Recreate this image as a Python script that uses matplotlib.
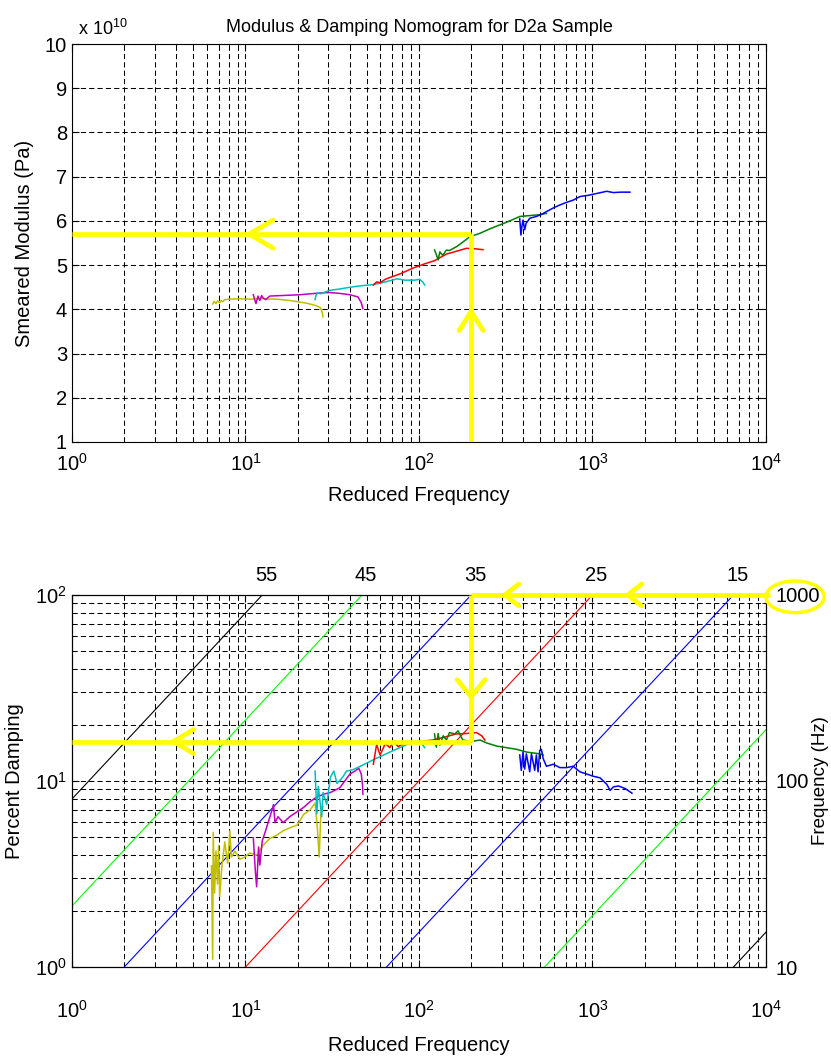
import matplotlib
matplotlib.use("Agg")
import matplotlib.pyplot as plt
from matplotlib.patches import Ellipse
from matplotlib.ticker import LogLocator, FixedLocator, FixedFormatter, NullFormatter

plt.rcParams['font.family'] = ['Liberation Sans', 'DejaVu Sans']
plt.rcParams['mathtext.fontset'] = 'custom'
plt.rcParams['mathtext.rm'] = 'Liberation Sans'
plt.rcParams['mathtext.it'] = 'Liberation Sans:italic'
plt.rcParams['mathtext.bf'] = 'Liberation Sans:bold'
plt.rcParams['font.size'] = 14.5

# ---------------- data: modulus (x 1e10 Pa) vs reduced frequency ----------------
mod_olive_fr = [6.47, 6.6, 6.76, 6.9, 7.1, 7.25, 7.4, 7.6, 8.1, 9.3, 10.6, 12.1, 15.2, 18.0, 22.5, 25.7, 27.0, 27.6, 28.0]
mod_olive = [4.12, 4.18, 4.13, 4.19, 4.15, 4.20, 4.17, 4.22, 4.23, 4.24, 4.23, 4.24, 4.23, 4.20, 4.14, 4.08, 4.04, 3.95, 3.83]

mod_magenta_fr = [11.1, 11.3, 11.5, 11.8, 12.1, 12.4, 12.6, 13.1, 13.8, 15.8, 18.0, 20.6, 23.5, 27.0, 30.6, 35.0, 40.0, 44.5, 46.5, 47.5]
mod_magenta = [4.33, 4.22, 4.13, 4.30, 4.20, 4.31, 4.26, 4.22, 4.30, 4.31, 4.32, 4.33, 4.35, 4.37, 4.38, 4.36, 4.33, 4.28, 4.15, 4.02]

mod_cyan_fr = [25.2, 25.5, 26.2, 27.0, 30.6, 35.0, 40.0, 45.7, 54.6, 64.0, 74.7, 83.0, 95.0, 101.0, 105.0, 108.0]
mod_cyan = [4.22, 4.32, 4.38, 4.35, 4.43, 4.46, 4.50, 4.53, 4.56, 4.62, 4.69, 4.66, 4.66, 4.68, 4.62, 4.55]

mod_red_fr = [54.6, 57.0, 59.7, 64.0, 68.0, 77.6, 92.0, 108.0, 123.0, 144.0, 160.0, 188.0, 209.0, 234.0]
mod_red = [4.55, 4.62, 4.60, 4.68, 4.72, 4.80, 4.93, 5.03, 5.10, 5.25, 5.30, 5.38, 5.37, 5.35]

mod_green_fr = [123, 127, 129, 132, 137, 144, 150, 165, 179, 196, 225, 256, 293, 334, 381, 435, 497, 543]
mod_green = [5.34, 5.20, 5.12, 5.30, 5.22, 5.34, 5.33, 5.42, 5.52, 5.64, 5.72, 5.82, 5.91, 6.00, 6.10, 6.12, 6.14, 6.17]

mod_blue_fr = [381, 387, 393, 398, 407, 415, 425, 435, 455, 475, 510, 543, 600, 649, 710, 775, 847, 950, 1059, 1209, 1322, 1450, 1645]
mod_blue = [6.05, 5.68, 5.90, 6.02, 5.80, 5.95, 6.00, 6.06, 6.08, 6.10, 6.15, 6.21, 6.30, 6.36, 6.42, 6.47, 6.55, 6.58, 6.62, 6.67, 6.64, 6.65, 6.65]

# ---------------- data: percent damping vs reduced frequency ----------------
damp_olive_fr = [6.37, 6.47, 6.52, 6.64, 6.76, 6.9, 7.0, 7.1, 7.3, 7.6, 7.9, 8.13, 8.3, 8.7, 9.3, 9.9, 10.6, 11.6, 12.6, 13.8, 15.1, 16.5, 18.0, 19.9, 21.6, 23.6, 25.2, 26.0, 26.6, 27.2, 28.0]
damp_olive = [3.5, 1.1, 5.3, 2.5, 4.2, 2.8, 4.5, 2.4, 3.4, 4.7, 3.6, 5.4, 3.9, 4.2, 3.8, 3.9, 4.1, 4.0, 4.5, 4.9, 5.1, 5.4, 5.6, 5.8, 6.6, 7.0, 7.6, 5.5, 3.9, 6.6, 7.3]

damp_magenta_fr = [11.1, 11.4, 11.6, 11.9, 12.1, 12.5, 13.0, 13.5, 14.2, 14.5, 14.8, 15.4, 16.5, 18.0, 19.7, 21.6, 23.6, 25.8, 28.3, 30.9, 35.0, 40.0, 42.7, 45.0, 46.5, 47.3, 47.5]
damp_magenta = [4.95, 3.28, 2.7, 4.42, 3.53, 4.77, 5.33, 5.97, 6.93, 7.47, 5.97, 6.43, 5.97, 6.43, 6.8, 7.2, 7.75, 8.2, 8.5, 8.67, 9.2, 10.9, 11.3, 11.7, 10.9, 9.5, 8.5]

damp_cyan_fr = [25.2, 25.8, 26.3, 27.5, 28.0, 29.4, 30.9, 32.3, 33.7, 36.4, 38.2, 41.6, 46.0, 54.6, 68.0, 85.0, 97.0, 103.0, 108.0]
damp_cyan = [11.3, 6.67, 9.35, 6.43, 8.67, 7.47, 10.5, 11.3, 9.7, 10.5, 11.3, 11.5, 12.0, 13.0, 14.3, 15.7, 16.3, 16.0, 15.1]

damp_red_fr = [54.6, 57, 59.7, 64, 68, 71, 76, 81, 89, 101, 120, 140, 164, 188, 215, 230, 240]
damp_red = [12.3, 15.7, 13.8, 15.9, 15.1, 16.3, 15.3, 15.9, 15.9, 16.3, 16.6, 17.2, 17.9, 18.0, 18.2, 17.5, 16.6]

damp_green_fr = [123, 126, 129, 132, 138, 144, 150, 161, 168, 179, 200, 225, 246, 281, 320, 366, 418, 497, 520]
damp_green = [17.9, 15.2, 18.0, 15.6, 17.5, 16.6, 18.2, 17.9, 18.6, 16.6, 16.3, 16.6, 16.0, 15.4, 15.1, 14.8, 14.3, 14.0, 13.8]

damp_blue_fr = [381, 389, 398, 407, 416, 435, 445, 465, 475, 486, 497, 508, 520, 543, 594, 649, 709, 775, 847, 926, 1012, 1106, 1209, 1264, 1322, 1414, 1546, 1690]
damp_blue = [13.8, 11.4, 14.3, 11.6, 14.0, 11.2, 14.0, 11.4, 13.8, 11.2, 14.6, 14.8, 13.2, 12.0, 12.3, 11.8, 11.8, 12.0, 11.2, 10.9, 10.6, 10.4, 9.6, 8.9, 9.3, 9.4, 9.1, 8.6]

# ---------------- isotherms: reduced frequency at which each line meets 10 Hz ----------------
iso_labels = ['55', '45', '35', '25', '15', '', '']
iso_fr_at_10hz = [0.125, 0.47, 2.0, 10.0, 65.0, 530.0, 6500.0]
iso_colors = ['k', '#00ff00', '#0000ff', '#ff0000', '#0000ff', '#00ff00', 'k']

# ---------------- guide (read-off) values ----------------
guide_fr = 200.0
guide_mod = 5.7
guide_damp = 16.3
guide_freq = 1000.0

C_OLIVE = (0.75, 0.75, 0.0)
C_MAG = (0.75, 0.0, 0.75)
C_CYAN = (0.0, 0.75, 0.75)
C_RED = (1.0, 0.0, 0.0)
C_GREEN = (0.0, 0.5, 0.0)
C_BLUE = (0.0, 0.0, 1.0)
YEL = (1.0, 1.0, 0.0)
YLW = 3.4

GRID = dict(color='k', linestyle=(0, (5, 3)), linewidth=0.75)

fig = plt.figure(figsize=(8.31, 10.63), dpi=100)
ax1 = fig.add_axes([0.0866, 0.5842, 0.8351, 0.3744])
ax = fig.add_axes([0.0866, 0.0903, 0.8351, 0.35])


def chevron(axis, tip, offsets, lw=YLW):
    for dx, dy in offsets:
        axis.annotate('', xy=tip, xytext=(dx, dy), textcoords='offset pixels',
                      arrowprops=dict(arrowstyle='-', color=YEL, lw=lw,
                                      shrinkA=0, shrinkB=0), zorder=6)

# ================= top: modulus =================
ax1.set_xscale('log')
ax1.set_xlim(1, 1e4)
ax1.set_ylim(1, 10)
ax1.set_yticks(range(1, 11))
for fr, v, c in [(mod_olive_fr, mod_olive, C_OLIVE), (mod_magenta_fr, mod_magenta, C_MAG),
                 (mod_cyan_fr, mod_cyan, C_CYAN), (mod_red_fr, mod_red, C_RED),
                 (mod_green_fr, mod_green, C_GREEN), (mod_blue_fr, mod_blue, C_BLUE)]:
    ax1.plot(fr, v, color=c, lw=1.1, zorder=3)

ax1.plot([1, guide_fr], [guide_mod, guide_mod], color=YEL, lw=YLW, zorder=5, solid_capstyle='butt')
ax1.plot([guide_fr, guide_fr], [1, guide_mod], color=YEL, lw=YLW, zorder=5, solid_capstyle='butt')
chevron(ax1, (10.5, guide_mod), [(24, 14), (24, -14)])
chevron(ax1, (guide_fr, 3.95), [(-12, -19), (12, -19)])

ax1.grid(True, which='major', axis='both', **GRID)
ax1.grid(True, which='minor', axis='x', **GRID)
ax1.xaxis.set_major_locator(LogLocator(base=10, numticks=10))
ax1.xaxis.set_minor_locator(LogLocator(base=10, subs=range(2, 10), numticks=50))
ax1.xaxis.set_minor_formatter(NullFormatter())
ax1.tick_params(which='both', direction='in', top=True, right=True, length=5)
ax1.tick_params(which='minor', length=3)
ax1.tick_params(axis='x', pad=8)
ax1.set_xlabel('Reduced Frequency', labelpad=8)
ax1.set_ylabel('Smeared Modulus (Pa)', labelpad=8)
ax1.set_title('Modulus & Damping Nomogram for D2a Sample', pad=9, fontsize=13)
ax1.text(0.008, 1.012, r'x 10$^{10}$', transform=ax1.transAxes, ha='left', va='bottom',
         fontsize=13)

# ================= bottom: damping =================
ax.set_xscale('log')
ax.set_yscale('log')
ax.set_xlim(1, 1e4)
ax.set_ylim(1, 100)

ax2 = ax.twinx()
ax2.set_yscale('log')
ax2.set_ylim(10, 1000)

for s, lab, c in zip(iso_fr_at_10hz, iso_labels, iso_colors):
    ax2.plot([s, s * 100], [10, 1000], color=c, lw=0.8, zorder=2)
    if lab:
        ax2.annotate(lab, xy=(s * 100, 1000), xytext=(4, 10), textcoords='offset pixels',
                     ha='center', va='bottom', annotation_clip=False)

for fr, v, c in [(damp_olive_fr, damp_olive, C_OLIVE), (damp_magenta_fr, damp_magenta, C_MAG),
                 (damp_cyan_fr, damp_cyan, C_CYAN), (damp_red_fr, damp_red, C_RED),
                 (damp_green_fr, damp_green, C_GREEN), (damp_blue_fr, damp_blue, C_BLUE)]:
    ax2.plot(fr, [x * 10 for x in v], color=c, lw=1.1, zorder=3)

# yellow guide path on frequency axis
ax2.plot([guide_fr, 1.05e4], [guide_freq, guide_freq], color=YEL, lw=YLW, zorder=5,
         solid_capstyle='butt', clip_on=False)
ax2.plot([guide_fr, guide_fr], [guide_freq, guide_damp * 10], color=YEL, lw=YLW, zorder=5,
         solid_capstyle='butt', clip_on=False)
ax2.plot([1, guide_fr], [guide_damp * 10, guide_damp * 10], color=YEL, lw=YLW, zorder=5,
         solid_capstyle='butt', clip_on=False)
chevron(ax2, (313, guide_freq), [(14, 11), (14, -11)])
chevron(ax2, (1600, guide_freq), [(14, 11), (14, -11)])
chevron(ax2, (guide_fr, 284), [(-14, 17), (14, 17)])
chevron(ax2, (3.85, guide_damp * 10), [(20, 12), (20, -12)])
ax2.add_patch(Ellipse((1.042, 0.995), 0.084, 0.085, transform=ax2.transAxes, fill=False,
                      ec=YEL, lw=2.5, clip_on=False, zorder=6))

ax.grid(True, which='both', axis='both', **GRID)
ax.xaxis.set_major_locator(LogLocator(base=10, numticks=10))
ax.xaxis.set_minor_locator(LogLocator(base=10, subs=range(2, 10), numticks=50))
ax.xaxis.set_minor_formatter(NullFormatter())
ax.yaxis.set_major_locator(LogLocator(base=10, numticks=10))
ax.yaxis.set_minor_locator(LogLocator(base=10, subs=range(2, 10), numticks=50))
ax.yaxis.set_minor_formatter(NullFormatter())
ax.tick_params(which='both', direction='in', top=True, right=False, length=5)
ax.tick_params(which='minor', length=3)
ax.tick_params(axis='x', pad=24)
ax.set_xlabel('Reduced Frequency', labelpad=10)
ax.set_ylabel('Percent Damping', labelpad=8)

ax2.yaxis.set_major_locator(FixedLocator([10, 100, 1000]))
ax2.yaxis.set_major_formatter(FixedFormatter(['10', '100', '1000']))
ax2.yaxis.set_minor_locator(LogLocator(base=10, subs=range(2, 10), numticks=50))
ax2.yaxis.set_minor_formatter(NullFormatter())
ax2.tick_params(which='both', direction='in', length=5, pad=7)
ax2.tick_params(which='minor', length=3)
ax2.set_ylabel('Frequency (Hz)', fontsize=13.5)
ax2.yaxis.set_label_coords(1.066, 0.5)

fig.savefig('out.png', dpi=100)
